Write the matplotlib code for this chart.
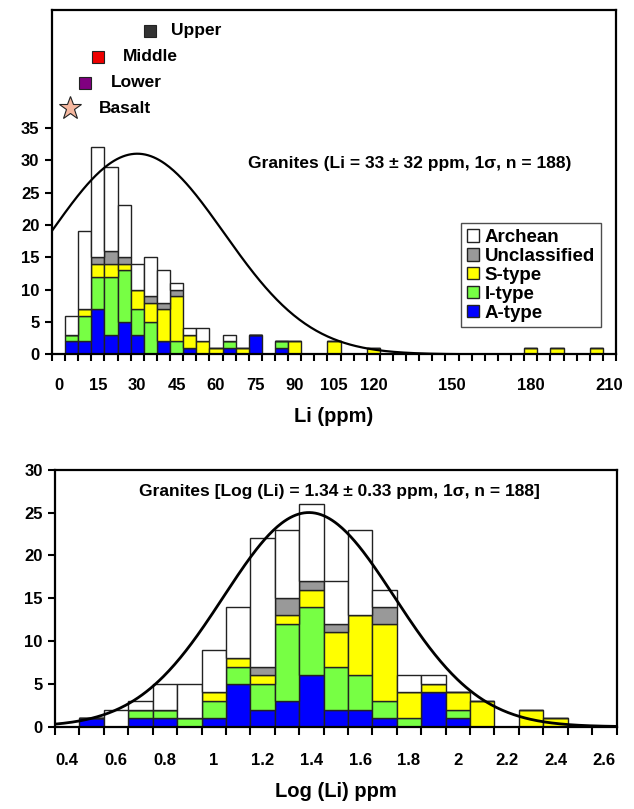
#! /usr/bin/env python3
# Li in granites: stacked histograms of Li and Log(Li) by granite type

import numpy as np
import matplotlib.pyplot as plt
from matplotlib.patches import Patch

plt.rcParams['font.family'] = ['Liberation Sans', 'DejaVu Sans']
plt.rcParams['font.weight'] = 'bold'
plt.rcParams['axes.labelweight'] = 'bold'

# ---- top panel: Li (ppm), bins of 5 ppm (category labels) ----
li_bins    = [5, 10, 15, 20, 25, 30, 35, 40, 45, 50, 55, 60, 65, 70, 75,
              85, 90, 105, 120, 180, 190, 205]
li_atype   = [2, 2, 7, 3, 5, 3, 0, 2, 0, 1, 0, 0, 1, 0, 3, 1, 0, 0, 0, 0, 0, 0]
li_itype   = [1, 4, 5, 9, 8, 4, 5, 0, 2, 0, 0, 0, 1, 0, 0, 1, 0, 0, 0, 0, 0, 0]
li_stype   = [0, 1, 2, 2, 1, 3, 3, 5, 7, 2, 2, 1, 0, 1, 0, 0, 2, 2, 1, 1, 1, 1]
li_uncl    = [0, 0, 1, 2, 1, 0, 1, 1, 1, 0, 0, 0, 0, 0, 0, 0, 0, 0, 0, 0, 0, 0]
li_archean = [3, 12, 17, 13, 8, 4, 6, 5, 1, 1, 2, 0, 1, 0, 0, 0, 0, 0, 0, 0, 0, 0]
li_ticks   = [0, 15, 30, 45, 60, 75, 90, 105, 120, 150, 180, 210]

# crustal reference values
ref_names = ["Upper", "Middle", "Lower", "Basalt"]
ref_li    = [35, 15, 10, 4.5]
ref_y     = [50, 46, 42, 38]

# ---- bottom panel: Log(Li), bins of 0.1 ----
log_bins    = [0.5, 0.6, 0.7, 0.8, 0.9, 1.0, 1.1, 1.2, 1.3, 1.4, 1.5, 1.6,
               1.7, 1.8, 1.9, 2.0, 2.1, 2.3, 2.4]
log_atype   = [1, 0, 1, 1, 0, 1, 5, 2, 3, 6, 2, 2, 1, 0, 4, 1, 0, 0, 0]
log_itype   = [0, 0, 1, 1, 1, 2, 2, 3, 9, 8, 5, 4, 2, 1, 0, 1, 0, 0, 0]
log_stype   = [0, 0, 0, 0, 0, 1, 1, 1, 1, 2, 4, 7, 9, 3, 1, 2, 3, 2, 1]
log_uncl    = [0, 0, 0, 0, 0, 0, 0, 1, 2, 1, 1, 0, 2, 0, 0, 0, 0, 0, 0]
log_archean = [0, 2, 1, 3, 4, 5, 6, 15, 8, 9, 5, 10, 2, 2, 1, 0, 0, 0, 0]
log_ticks   = [0.4, 0.6, 0.8, 1.0, 1.2, 1.4, 1.6, 1.8, 2.0, 2.2, 2.4, 2.6]
log_labels  = ["0.4", "0.6", "0.8", "1", "1.2", "1.4", "1.6", "1.8", "2",
               "2.2", "2.4", "2.6"]

names  = ["A-type", "I-type", "S-type", "Unclassified", "Archean"]
colors = ["#0000FF", "#77FF44", "#FFFF00", "#999999", "#FFFFFF"]


def stack(ax, x, series, width):
    bottom = np.zeros(len(x))
    for vals, c in zip(series, colors):
        vals = np.array(vals, dtype=float)
        ax.bar(x, vals, width=width, bottom=bottom, color=c,
               edgecolor="#222222", linewidth=1.0, zorder=2)
        bottom += vals


def style(ax):
    for s in ax.spines.values():
        s.set_linewidth(1.6)
    ax.tick_params(axis="y", direction="out", length=5, width=1.5,
                   labelsize=12, pad=4)
    ax.tick_params(axis="x", which="major", length=0, labelsize=12, pad=17)
    ax.tick_params(axis="x", which="minor", direction="out", length=5,
                   width=1.5)


fig = plt.figure(figsize=(6.34, 8.09), dpi=100)

# top panel
ax1 = fig.add_axes([0.082, 0.562, 0.8896, 0.4256])
stack(ax1, li_bins, [li_atype, li_itype, li_stype, li_uncl, li_archean], 5)
xs = np.linspace(-2.5, 212.5, 400)
ax1.plot(xs, 31 * np.exp(-(xs - 30) ** 2 / (2 * 33 ** 2)), "k-",
         linewidth=1.6, zorder=3)
ax1.set_xlim(-2.5, 212.5)
ax1.set_ylim(0, 53.2)
ax1.set_yticks(range(0, 40, 5))
ax1.set_xticks(li_ticks)
ax1.set_xticks(np.arange(-2.5, 213, 5), minor=True)
style(ax1)
ax1.set_xlabel("Li (ppm)", fontsize=14.5, labelpad=10)
ax1.text(0.634, 0.553, "Granites (Li = 33 ± 32 ppm, 1σ, n = 188)",
         transform=ax1.transAxes, ha="center", va="center", fontsize=12.5)

marks = [("s", "#333333", 8), ("s", "#EE0000", 8), ("s", "#800080", 8),
         ("*", "#F6B8A0", 17)]
offs = [8, 9.5, 10, 11]
for nm, x, y, (m, c, ms), o in zip(ref_names, ref_li, ref_y, marks, offs):
    ax1.plot(x, y, marker=m, color=c, markersize=ms, markeredgecolor="#222222",
             markeredgewidth=0.8, linestyle="none", clip_on=False)
    ax1.text(x + o, y, nm, fontsize=12.5, va="center", ha="left")

handles = [Patch(facecolor=c, edgecolor="#222222", label=n)
           for n, c in zip(names, colors)][::-1]
leg = ax1.legend(handles=handles, loc="lower right",
                 bbox_to_anchor=(0.973, 0.079), borderaxespad=0,
                 fontsize=13.5, handlelength=0.65, handleheight=0.65,
                 handletextpad=0.3, labelspacing=0.1, fancybox=False,
                 frameon=True, borderpad=0.3)
leg.get_frame().set_edgecolor("#222222")
leg.get_frame().set_linewidth(1.0)

# bottom panel
ax2 = fig.add_axes([0.0868, 0.1017, 0.8856, 0.3177])
stack(ax2, log_bins, [log_atype, log_itype, log_stype, log_uncl, log_archean],
      0.1)
xs = np.linspace(0.35, 2.65, 400)
ax2.plot(xs, 25 * np.exp(-(xs - 1.39) ** 2 / (2 * 0.35 ** 2)), "k-",
         linewidth=2.0, zorder=3)
ax2.set_xlim(0.35, 2.65)
ax2.set_ylim(0, 30)
ax2.set_yticks(range(0, 35, 5))
ax2.set_xticks(log_ticks)
ax2.set_xticklabels(log_labels)
ax2.set_xticks(np.arange(0.35, 2.66, 0.1), minor=True)
style(ax2)
ax2.tick_params(axis="x", which="minor", length=6)
ax2.tick_params(axis="x", which="major", pad=19)
ax2.set_xlabel("Log (Li) ppm", fontsize=14.5, labelpad=10)
ax2.text(0.507, 0.915, "Granites [Log (Li) = 1.34 ± 0.33 ppm, 1σ, n = 188]",
         transform=ax2.transAxes, ha="center", va="center", fontsize=12.5)

fig.savefig("out.png", dpi=100)
